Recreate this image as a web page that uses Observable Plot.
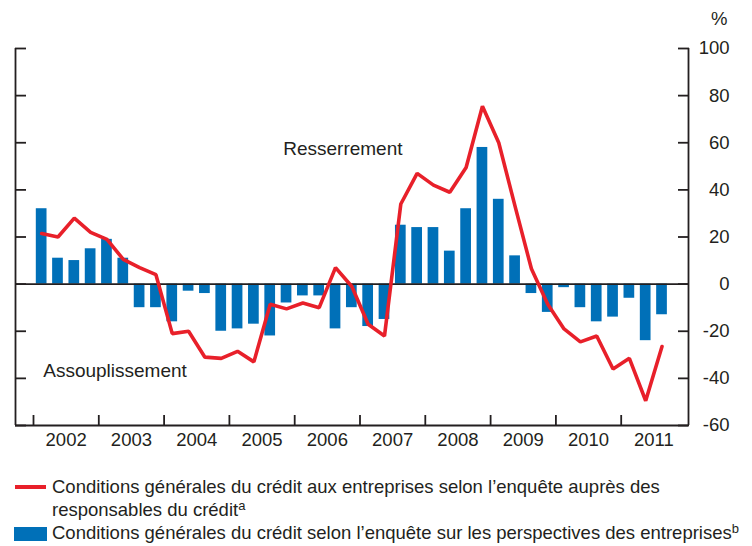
<!DOCTYPE html>
<html><head><meta charset="utf-8">
<script src="https://cdn.jsdelivr.net/npm/d3@7"></script>
<script src="https://cdn.jsdelivr.net/npm/@observablehq/plot@0.6"></script>
<style>
body{margin:0;background:#fff;font-family:"Liberation Sans",Arial,sans-serif;color:#231f20;}
#wrap{position:relative;width:752px;height:546px;overflow:hidden;}
#chart{position:absolute;left:0;top:0;}
.leg{position:absolute;font-size:18.5px;line-height:22.7px;white-space:nowrap;}
.leg sup{font-size:13px;vertical-align:baseline;position:relative;top:-6px;}
.sw{position:absolute;}
</style></head><body>
<div id="wrap">
  <div id="chart"></div>
  <div class="sw" style="left:15px;top:485px;width:31px;height:3.6px;background:#e8202a;"></div>
  <div class="leg" style="left:52px;top:476.2px;">Conditions générales du crédit aux entreprises selon l’enquête auprès des<br>responsables du crédit<sup>a</sup></div>
  <div class="sw" style="left:14px;top:527px;width:32.5px;height:13.5px;background:#0070b8;"></div>
  <div class="leg" style="left:52px;top:522.2px;">Conditions générales du crédit selon l’enquête sur les perspectives des entreprises<sup>b</sup></div>
</div>
<script>
const years = [2002, 2003, 2004, 2005, 2006, 2007, 2008, 2009, 2010, 2011];
const quarters = ["T1", "T2", "T3", "T4"];
// Conditions générales du crédit aux entreprises (enquête auprès des responsables du crédit)
const lineSeries = [21.5, 20, 28, 22, 19, 10.5, 7, 4,
  -21, -20, -31, -31.5, -28.5, -33, -8.5, -10.5,
  -8, -10, 7, -1, -17, -22, 34, 47,
  42, 39, 49.5, 75.5, 60, 33, 6.5, -8.5,
  -19, -24.5, -22, -36, -31.5, -49.5, -26.5];
// Conditions générales du crédit (enquête sur les perspectives des entreprises)
const barSeries = [32, 11, 10, 15, 19, 11, -10, -10,
  -16, -3, -4, -20, -19, -17, -22, -8,
  -5, -5, -19, -10, -18, -15, 25, 24,
  24, 14, 32, 58, 36, 12, -4, -12,
  -1.5, -10, -16, -14, -6, -24, -13];
const yTicks = [-60, -40, -20, 0, 20, 40, 60, 80, 100];
const annotations = [
  {text: "Resserrement", year: 2005.824, value: 57.4},
  {text: "Assouplissement", year: 2002.149, value: -36.8}
];

const periods = years.flatMap(y => quarters.map((q, qi) => ({year: y, q, t: y + qi / 4})))
  .slice(0, lineSeries.length);
const data = periods.map((p, i) => ({t: p.t, label: p.year + " " + p.q, bar: barSeries[i], line: lineSeries[i]}));

const ink = "#231f20";
const xDomain = [2001.7244, 2012.0306];
const yDomain = [-60, 100];

const plot = Plot.plot({
  width: 752, height: 462,
  marginLeft: 15, marginRight: 64, marginTop: 48, marginBottom: 37,
  style: {fontFamily: "'Liberation Sans', Arial, sans-serif", fontSize: "18.5px", color: ink, background: "white"},
  x: {domain: xDomain, axis: null},
  y: {domain: yDomain, axis: null},
  marks: [
    Plot.rectY(data, {x1: d => d.t + 0.043, x2: d => d.t + 0.207, y1: 0, y2: "bar", fill: "#0070b8"}),
    Plot.ruleY([0], {stroke: ink, strokeWidth: 1.8}),
    Plot.lineY(data, {x: d => d.t + 0.125, y: "line", stroke: "#e8202a", strokeWidth: 3.6, strokeLinejoin: "miter"}),
    Plot.ruleX(xDomain, {y1: yDomain[0], y2: yDomain[1], stroke: ink, strokeWidth: 1.8}),
    Plot.ruleY([yDomain[0]], {stroke: ink, strokeWidth: 1.8}),
    Plot.axisY({anchor: "left", ticks: yTicks, tickSize: 11, dx: 11, tickFormat: () => "", label: null, stroke: ink, strokeWidth: 1.8}),
    Plot.axisY({anchor: "right", ticks: yTicks, tickSize: 11, dx: -11, tickFormat: () => "", label: null, stroke: ink, strokeWidth: 1.8}),
    Plot.axisY({anchor: "right", ticks: yTicks, tickSize: 0, tickPadding: 0, dx: 41, textAnchor: "end", tickFormat: d => String(d), label: null, fill: ink, fontSize: 18.5}),
    Plot.axisX({anchor: "bottom", ticks: years, tickSize: 10, dy: -10, tickFormat: () => "", label: null, stroke: ink, strokeWidth: 1.8}),
    Plot.axisX({anchor: "bottom", ticks: years.map(y => y + 0.5), tickSize: 0, tickPadding: 7, tickFormat: d => String(Math.floor(d)), label: null, fill: ink, fontSize: 18.5}),
    Plot.text(annotations, {x: "year", y: "value", text: "text", textAnchor: "start", lineAnchor: "middle", fontSize: 19, fill: ink}),
    Plot.text(["%"], {frameAnchor: "top-right", dx: 39, dy: -29, textAnchor: "end", lineAnchor: "middle", fontSize: 18.5, fill: ink})
  ]
});
document.getElementById("chart").appendChild(plot);
</script>
</body></html>
